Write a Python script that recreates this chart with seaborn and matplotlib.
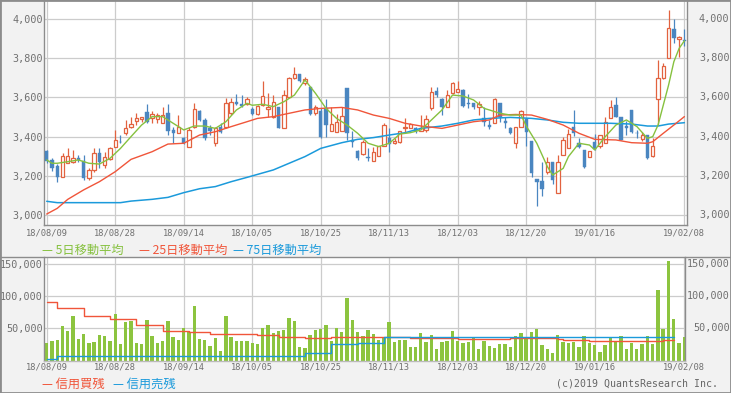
import numpy as np
import pandas as pd
import matplotlib
matplotlib.use("Agg")
import matplotlib.pyplot as plt
import matplotlib.transforms as mtrans
from matplotlib.lines import Line2D
from matplotlib.patches import Rectangle
import seaborn as sns

W, H = 731, 393

UP     = "#E2623F"
DOWN   = "#4A86C0"
MA5_C  = "#86C13F"
MA25_C = "#F0553A"
MA75_C = "#1B9ADB"
VOL_C  = "#8CC43F"
GRID   = "#CCCCCC"
FRAME  = "#8C8C8C"
TXT    = "#707070"

sns.set_style("white")
plt.rcParams.update({
    "font.family": ["DejaVu Sans Mono", "Noto Sans CJK JP"],
    "axes.linewidth": 1.0,
    "patch.force_edgecolor": False,
})

# ── trading calendar (TSE) ─────────────────────────────────────────────────
holidays = ["2018-09-17", "2018-09-24", "2018-10-08", "2018-11-23", "2018-12-24",
            "2018-12-31", "2019-01-01", "2019-01-02", "2019-01-03", "2019-01-14"]
days = pd.bdate_range("2018-08-09", "2019-02-08")
days = days[~days.isin(pd.to_datetime(holidays))]

tick_labels = ["18/08/09", "18/08/28", "18/09/14", "18/10/05", "18/10/25",
               "18/11/13", "18/12/03", "18/12/20", "19/01/16", "19/02/08"]

# ── daily prices ───────────────────────────────────────────────────────────
opens = [3326, 3281, 3250, 3196, 3264, 3272, 3289, 3277, 3187, 3228,
         3315, 3255, 3284, 3349, 3373, 3417, 3451, 3481, 3488, 3527,
         3493, 3488, 3471, 3519, 3434, 3417, 3391, 3349, 3451, 3530,
         3485, 3442, 3366, 3447, 3447, 3519, 3578, 3566, 3566, 3539,
         3515, 3561, 3539, 3502, 3553, 3446, 3604, 3697, 3719, 3675,
         3651, 3519, 3530, 3544, 3430, 3425, 3430, 3646, 3383, 3327,
         3310, 3298, 3277, 3303, 3354, 3391, 3366, 3374, 3442, 3446,
         3442, 3429, 3434, 3544, 3633, 3590, 3553, 3624, 3629, 3638,
         3572, 3573, 3549, 3493, 3459, 3468, 3570, 3481, 3442, 3369,
         3451, 3488, 3379, 3182, 3173, 3221, 3272, 3110, 3306, 3340,
         3451, 3366, 3332, 3298, 3372, 3350, 3366, 3493, 3561, 3500,
         3456, 3536, 3420, 3386, 3408, 3303, 3590, 3697, 3800, 3950,
         3900, 3892]
highs = [3332, 3289, 3260, 3315, 3340, 3332, 3306, 3306, 3238, 3340,
         3340, 3323, 3349, 3434, 3407, 3485, 3502, 3522, 3502, 3566,
         3530, 3519, 3549, 3566, 3451, 3510, 3400, 3451, 3570, 3536,
         3493, 3459, 3451, 3468, 3595, 3595, 3618, 3612, 3600, 3549,
         3561, 3685, 3621, 3610, 3553, 3636, 3705, 3757, 3719, 3703,
         3655, 3561, 3545, 3590, 3553, 3515, 3553, 3648, 3430, 3330,
         3383, 3340, 3345, 3354, 3468, 3446, 3391, 3430, 3493, 3471,
         3451, 3510, 3510, 3651, 3651, 3595, 3640, 3680, 3685, 3642,
         3620, 3573, 3583, 3549, 3485, 3595, 3570, 3502, 3451, 3451,
         3536, 3493, 3379, 3182, 3270, 3294, 3272, 3306, 3400, 3440,
         3536, 3391, 3332, 3328, 3414, 3408, 3500, 3587, 3604, 3500,
         3480, 3536, 3434, 3425, 3408, 3391, 3791, 3778, 4046, 3998,
         3912, 3950]
lows = [3264, 3226, 3170, 3196, 3264, 3264, 3270, 3179, 3179, 3221,
        3240, 3238, 3281, 3349, 3366, 3409, 3442, 3459, 3476, 3468,
        3468, 3468, 3468, 3408, 3366, 3417, 3362, 3345, 3442, 3481,
        3382, 3407, 3352, 3417, 3442, 3510, 3561, 3553, 3561, 3510,
        3510, 3556, 3502, 3495, 3442, 3442, 3600, 3693, 3680, 3663,
        3512, 3510, 3392, 3400, 3428, 3422, 3428, 3383, 3345, 3281,
        3306, 3276, 3274, 3300, 3354, 3323, 3362, 3369, 3425, 3442,
        3417, 3429, 3425, 3536, 3604, 3510, 3553, 3620, 3629, 3550,
        3545, 3539, 3510, 3455, 3440, 3468, 3473, 3442, 3413, 3340,
        3451, 3350, 3196, 3046, 3095, 3211, 3160, 3110, 3306, 3340,
        3405, 3340, 3241, 3294, 3332, 3340, 3366, 3493, 3502, 3383,
        3410, 3420, 3391, 3379, 3286, 3297, 3460, 3692, 3800, 3876,
        3806, 3860]
closes = [3275, 3238, 3196, 3301, 3301, 3289, 3281, 3187, 3228, 3315,
          3272, 3294, 3342, 3383, 3370, 3442, 3464, 3493, 3498, 3476,
          3513, 3510, 3510, 3430, 3420, 3447, 3369, 3434, 3539, 3485,
          3395, 3430, 3446, 3425, 3570, 3578, 3565, 3556, 3592, 3515,
          3556, 3609, 3551, 3575, 3446, 3612, 3697, 3719, 3685, 3692,
          3517, 3553, 3400, 3459, 3464, 3476, 3505, 3420, 3372, 3293,
          3371, 3289, 3320, 3354, 3459, 3362, 3379, 3430, 3451, 3463,
          3429, 3442, 3488, 3629, 3612, 3553, 3612, 3672, 3641, 3556,
          3565, 3549, 3566, 3475, 3447, 3590, 3502, 3468, 3420, 3451,
          3532, 3425, 3213, 3170, 3131, 3272, 3179, 3272, 3381, 3415,
          3417, 3345, 3243, 3325, 3335, 3408, 3473, 3551, 3502, 3383,
          3446, 3421, 3417, 3408, 3292, 3352, 3697, 3758, 3952, 3901,
          3910, 3886]
volume = [28000, 30600, 32000, 54000, 46000, 69000, 34000, 41000, 28000, 29000,
          40000, 38000, 30600, 72500, 26000, 60000, 62000, 28000, 26000, 63000,
          38000, 28000, 30600, 62000, 37000, 32000, 50000, 44500, 85000, 34000,
          32000, 23000, 35000, 15000, 69000, 37000, 30600, 30600, 30600, 28000,
          26000, 51000, 55000, 43000, 46000, 47700, 66000, 62000, 21000, 19700,
          40000, 47700, 49000, 55000, 30600, 51000, 44500, 97000, 63000, 44500,
          38000, 47700, 41000, 32000, 35000, 60000, 29000, 32000, 32000, 21000,
          21000, 43000, 29000, 40000, 18000, 29000, 30600, 46000, 30600, 27500,
          29000, 37000, 18000, 30600, 23000, 19700, 26000, 26000, 21000, 38000,
          43000, 37000, 44500, 49000, 24000, 18000, 12000, 40000, 29000, 27500,
          29000, 21000, 38000, 27500, 24000, 13500, 24000, 37000, 30600, 38000,
          18000, 27500, 18000, 26000, 38000, 26000, 110000, 49000, 155000, 65000,
          27500, 37000]

ma5_at = [0, 1, 2, 4, 6, 8, 10, 12, 14, 16, 18, 20, 22, 24, 26, 28, 30, 32, 34, 36,
          38, 39, 41, 43, 45, 47, 49, 51, 53, 55, 57, 59, 61, 63, 65, 67, 69, 71, 73, 75,
          77, 79, 81, 83, 84, 86, 88, 90, 91, 93, 95, 96, 98, 99, 101, 103, 104, 106, 108, 110,
          112, 114, 115, 116, 118, 119, 120, 121]
ma5 = [3281, 3264, 3264, 3272, 3281, 3264, 3260, 3289, 3340, 3400, 3459, 3502, 3502, 3468, 3434, 3454, 3454, 3442, 3476, 3536,
       3570, 3560, 3565, 3553, 3578, 3612, 3689, 3621, 3544, 3493, 3459, 3417, 3366, 3349, 3366, 3413, 3420, 3434, 3485, 3536,
       3612, 3607, 3587, 3544, 3536, 3519, 3510, 3510, 3454, 3366, 3247, 3204, 3238, 3298, 3366, 3357, 3332, 3400, 3459, 3485,
       3451, 3391, 3400, 3459, 3663, 3782, 3850, 3889]
ma25_at = [0, 2, 4, 7, 10, 13, 16, 20, 23, 26, 29, 32, 35, 38, 40, 43, 46, 49, 52, 56,
           59, 62, 65, 68, 71, 75, 78, 81, 84, 86, 89, 92, 95, 98, 101, 104, 108, 111, 114, 115,
           117, 119, 121]
ma25 = [3005, 3034, 3080, 3128, 3170, 3221, 3284, 3323, 3362, 3366, 3408, 3425, 3451, 3476, 3493, 3502, 3519, 3536, 3544, 3549,
        3536, 3510, 3493, 3468, 3454, 3442, 3459, 3476, 3485, 3510, 3513, 3510, 3488, 3459, 3417, 3386, 3383, 3369, 3366, 3374,
        3417, 3459, 3502]
ma75_at = [0, 2, 14, 16, 20, 23, 26, 29, 32, 35, 38, 43, 49, 52, 56, 59, 62, 65, 68, 71,
           75, 78, 81, 84, 88, 92, 95, 98, 101, 107, 111, 114, 116, 118, 121]
ma75 = [3070, 3063, 3063, 3071, 3080, 3090, 3114, 3134, 3145, 3170, 3192, 3230, 3298, 3340, 3369, 3386, 3395, 3408, 3420, 3442,
        3454, 3468, 3485, 3493, 3498, 3493, 3485, 3473, 3468, 3468, 3464, 3454, 3454, 3464, 3471]

# ── weekly margin balances (one value per week) ────────────────────────────
margin_buy  = [91000, 82000, 70000, 64000, 55000, 46000, 44000, 42000, 41000, 39400,
               37000, 35200, 36300, 37300, 37300, 34700, 34700, 33200, 33200, 34700,
               34700, 33200, 32000, 30600, 30600, 30600, 32000]
margin_sell = [2000, 7800, 7800, 7800, 7800, 7800, 7800, 7800, 7800, 7800,
               7800, 12000, 26000, 27000, 36000, 36000, 36000, 36000, 36000, 36000,
               36000, 36000, 36000, 36000, 36000, 36000, 37300]
margin_last_day = "2019-02-06"

# ── derived positions ──────────────────────────────────────────────────────
n = len(days)
x = np.arange(n)
o, h, l, c = (np.array(a, dtype=float) for a in (opens, highs, lows, closes))
tick_pos = [days.get_loc(pd.Timestamp("20" + t.replace("/", "-"))) for t in tick_labels]
weeks = pd.Series(days.to_period("W"))
week_start = list(np.flatnonzero(~weeks.duplicated().values))
margin_end = days.get_loc(pd.Timestamp(margin_last_day))

fig = plt.figure(figsize=(W / 100, H / 100), dpi=100, facecolor="#F2F2F2")
ax1 = fig.add_axes([43.5 / W, 1 - 225 / H, (686.7 - 43.5) / W, 224 / H])
ax2 = fig.add_axes([43.5 / W, 1 - 361 / H, (685 - 43.5) / W, 104 / H])

# ─────────────────────────────────────────────────────────────────────────────
# price panel
# ─────────────────────────────────────────────────────────────────────────────
up = c >= o
bw = 0.64
ax1.vlines(x[up], l[up], h[up], color=UP, lw=0.9, zorder=2)
ax1.vlines(x[~up], l[~up], h[~up], color=DOWN, lw=0.9, zorder=2)
ax1.bar(x[up], np.maximum(c - o, 3)[up], bottom=o[up], width=bw,
        color="white", edgecolor=UP, linewidth=0.9, zorder=3)
ax1.bar(x[~up], np.maximum(o - c, 3)[~up], bottom=c[~up], width=bw,
        color=DOWN, edgecolor=DOWN, linewidth=0.3, zorder=3)

sns.lineplot(x=ma75_at, y=ma75, color=MA75_C, lw=1.1, ax=ax1, zorder=4)
sns.lineplot(x=ma25_at, y=ma25, color=MA25_C, lw=1.0, ax=ax1, zorder=4)
sns.lineplot(x=ma5_at, y=ma5, color=MA5_C, lw=1.0, ax=ax1, zorder=5)

ax1.set_xlim(-0.61, 121.44)
ax1.set_ylim(2949, 4092)
yt1 = list(range(3000, 4001, 200))
ax1.set_yticks(yt1)
ax1.set_yticklabels([f"{v:,}" for v in yt1])

# ─────────────────────────────────────────────────────────────────────────────
# volume panel
# ─────────────────────────────────────────────────────────────────────────────
sns.barplot(x=x, y=volume, color=VOL_C, saturation=1, width=0.64,
            errorbar=None, linewidth=0, edgecolor=VOL_C, ax=ax2, zorder=2)

wx = week_start + [margin_end]
sns.lineplot(x=wx, y=margin_buy + [margin_buy[-1]], color=MA25_C, lw=1.0,
             drawstyle="steps-post", ax=ax2, zorder=4)
sns.lineplot(x=wx, y=margin_sell + [margin_sell[-1]], color=MA75_C, lw=1.0,
             drawstyle="steps-post", ax=ax2, zorder=4)

ax2.set_xlim(-0.61, 121.15)
ax2.set_ylim(-500, 161000)
yt2 = [50000, 100000, 150000]
ax2.set_yticks(yt2)
ax2.set_yticklabels([f"{v:,}" for v in yt2])

# ── common axis styling ─────────────────────────────────────────────────────
for ax, yt, rpad in ((ax1, yt1, 42.8), (ax2, yt2, 45.0)):
    ax.set_facecolor("white")
    ax.set_xticks(tick_pos)
    ax.set_xticklabels(tick_labels)
    ax.set_xlabel("")
    ax.set_ylabel("")
    ax.grid(True, color=GRID, lw=0.9)
    ax.set_axisbelow(True)
    ax.tick_params(axis="both", length=0, colors=TXT)
    ax.tick_params(axis="y", labelsize=7.3, pad=0.6)
    for s in ax.spines.values():
        s.set_color(FRAME)
    ax.spines["top"].set_visible(False)
    # labels on the right edge, right aligned
    trans = ax.get_yaxis_transform() + mtrans.ScaledTranslation(rpad / 100, 0, fig.dpi_scale_trans)
    for v in yt:
        ax.text(1, v, f"{v:,}", transform=trans, ha="right", va="center",
                fontsize=7.3, color=TXT, clip_on=False)

ax1.tick_params(axis="x", labelsize=6.3, pad=2.6)
ax2.tick_params(axis="x", labelsize=6.3, pad=1.2)
ax2.spines["bottom"].set_color("#BBBBBB")

# ── legends / captions ─────────────────────────────────────────────────────
def fx(px):
    return px / W

def fy(py):
    return 1 - py / H

cjk = ["Noto Sans CJK JP", "DejaVu Sans"]
fs = 8.8
fig.text(fx(41.7), fy(250), "— 5日移動平均", color=MA5_C, fontsize=fs, family=cjk, va="center")
fig.text(fx(139), fy(250), "— 25日移動平均", color=MA25_C, fontsize=fs, family=cjk, va="center")
fig.text(fx(233), fy(250), "— 75日移動平均", color=MA75_C, fontsize=fs, family=cjk, va="center")
fig.text(fx(41.7), fy(384), "— 信用買残", color=MA25_C, fontsize=fs, family=cjk, va="center")
fig.text(fx(113), fy(384), "— 信用売残", color=MA75_C, fontsize=fs, family=cjk, va="center")
fig.text(fx(718), fy(384), "(c)2019 QuantsResearch Inc.", color="#666666", fontsize=7.15,
         family="DejaVu Sans Mono", ha="right", va="center")

fig.add_artist(Line2D([0, 1], [fy(257), fy(257)], transform=fig.transFigure, color=FRAME, lw=1.0))
fig.add_artist(Rectangle((0, 0), 1, 1, transform=fig.transFigure, fill=False, edgecolor=FRAME, lw=2))

fig.savefig("out.png", dpi=100, facecolor=fig.get_facecolor())
plt.close()
